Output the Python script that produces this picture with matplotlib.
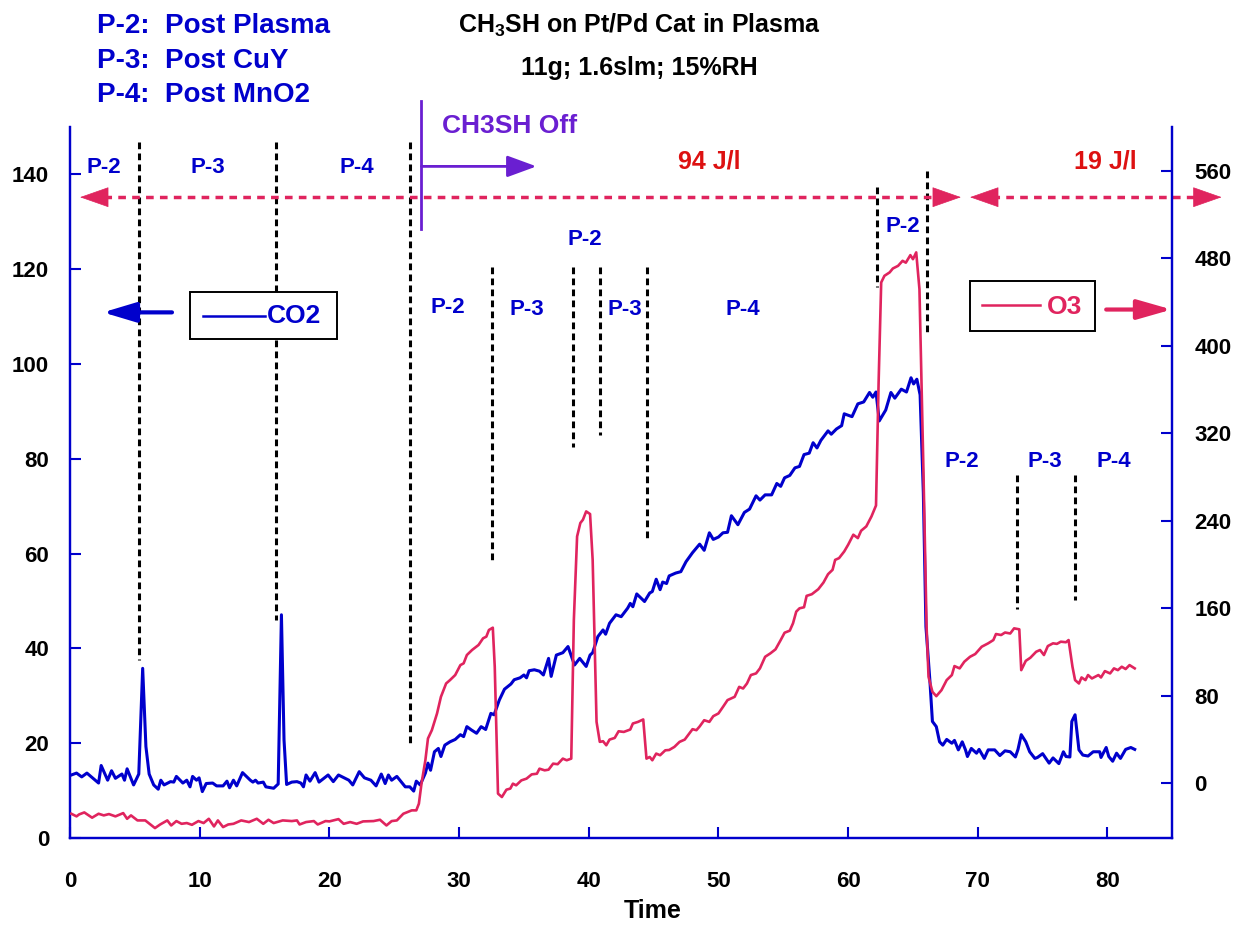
import matplotlib.pyplot as plt
from matplotlib.patches import Rectangle

plt.rcParams['font.family'] = ['Liberation Sans', 'DejaVu Sans']
plt.rcParams['font.weight'] = 'bold'
plt.rcParams['mathtext.fontset'] = 'custom'
plt.rcParams['mathtext.rm'] = 'Liberation Sans:bold'
plt.rcParams['mathtext.default'] = 'rm'

BLUE = '#0000cc'
CRIMSON = '#e0245e'
RED = '#dd1111'
PURPLE = '#6a1fd1'

# CO2 (left axis)
t_co2 = [0.1, 0.5, 0.9, 1.3, 2.2, 2.4, 2.9, 3.2, 3.5, 4.0, 4.2, 4.4, 4.9, 5.3, 5.6, 5.85, 6.1, 6.45,
         6.8, 7.0, 7.25, 7.75, 8.0, 8.2, 8.7, 9.0, 9.25, 9.45, 9.75, 9.95, 10.2, 10.5, 11.0, 11.3,
         11.8, 12.1, 12.3, 12.6, 12.85, 13.3, 13.9, 14.1, 14.3, 14.5, 14.9, 15.1, 15.7, 16.05, 16.3,
         16.5, 16.7, 17.1, 17.5, 17.8, 18.0, 18.2, 18.5, 18.9, 19.2, 19.9, 20.3, 20.7, 21.5, 21.8,
         22.3, 22.7, 23.2, 23.6, 24.0, 24.3, 24.55, 24.8, 25.2, 25.85, 26.2, 26.5, 26.7, 27.0, 27.4,
         27.6, 27.8, 28.1, 28.4, 28.6, 28.9, 29.3, 29.7, 30.1, 30.35, 30.6, 30.95, 31.35, 31.7,
         32.05, 32.45, 32.7, 33.1, 33.5, 34.0, 34.25, 34.7, 35.0, 35.2, 35.4, 35.8, 36.2, 36.5,
         36.9, 37.1, 37.5, 38.0, 38.4, 38.9, 39.3, 39.8, 40.1, 40.3, 40.7, 41.1, 41.3, 41.6, 42.1,
         42.5, 43.0, 43.2, 43.4, 43.7, 44.3, 44.7, 44.9, 45.2, 45.5, 45.7, 46.0, 46.2, 46.7, 47.1,
         47.5, 48.0, 48.55, 48.9, 49.3, 49.6, 50.0, 50.35, 50.7, 51.0, 51.5, 52.0, 52.4, 52.9,
         53.2, 53.6, 54.1, 54.5, 54.8, 55.1, 55.5, 55.9, 56.25, 56.6, 57.0, 57.3, 57.6, 57.9,
         58.45, 58.7, 59.1, 59.5, 59.7, 60.3, 60.75, 61.2, 61.65, 61.9, 62.15, 62.4, 62.9, 63.3,
         63.6, 64.1, 64.5, 64.85, 65.05, 65.3, 65.55, 65.8, 66.0, 66.3, 66.5, 66.8, 67.05, 67.3,
         67.6, 68.0, 68.2, 68.5, 68.8, 69.05, 69.2, 69.5, 69.9, 70.1, 70.5, 70.8, 71.3, 71.7,
         72.1, 72.5, 72.9, 73.1, 73.35, 73.7, 74.0, 74.4, 74.6, 75.0, 75.5, 75.8, 76.25, 76.6,
         76.8, 77.1, 77.25, 77.5, 77.8, 78.1, 78.5, 78.9, 79.4, 79.5, 79.9, 80.1, 80.4, 80.7,
         81.0, 81.4, 81.8, 82.1]
co2 = [13.3, 13.7, 12.9, 13.7, 11.6, 15.3, 12.2, 14.2, 12.6, 13.5, 12.2, 14.6, 11.2, 13.5, 35.8,
       19.3, 13.5, 11.2, 10.3, 12.2, 11.2, 11.9, 11.8, 13.0, 11.6, 12.2, 10.8, 13.0, 12.2, 12.7,
       9.8, 11.5, 11.6, 11.0, 11.0, 12.0, 10.6, 12.2, 11.0, 13.8, 12.2, 11.8, 12.2, 11.6, 11.8,
       10.8, 10.5, 11.4, 47.1, 20.7, 11.3, 11.8, 11.9, 11.6, 10.8, 13.3, 12.0, 13.8, 11.8, 13.3,
       11.9, 13.3, 12.2, 11.2, 14.0, 12.7, 12.2, 11.0, 13.5, 11.5, 13.3, 12.2, 13.0, 10.8, 10.8,
       9.9, 12.0, 11.2, 13.7, 15.8, 14.3, 18.2, 18.9, 17.2, 19.6, 20.3, 20.8, 21.8, 21.4, 23.5,
       22.8, 22.1, 23.5, 22.9, 26.3, 26.0, 29.1, 31.4, 32.5, 33.4, 33.8, 34.4, 33.8, 35.3, 35.5,
       35.2, 34.4, 37.9, 34.1, 38.6, 39.1, 40.4, 36.5, 37.9, 36.2, 38.6, 39.1, 42.5, 43.9, 43.0,
       45.3, 47.1, 46.7, 48.5, 49.5, 48.8, 51.5, 49.9, 51.7, 52.0, 54.6, 52.4, 54.0, 53.7, 55.3,
       55.9, 56.2, 58.3, 60.2, 62.0, 60.7, 64.4, 63.0, 63.5, 64.4, 64.5, 68.0, 66.1, 68.7, 69.4,
       72.2, 71.3, 72.4, 72.4, 74.8, 74.2, 76.0, 76.5, 78.1, 78.4, 80.9, 81.2, 83.4, 82.3, 83.9,
       85.9, 85.2, 86.3, 87.0, 89.5, 88.9, 91.6, 92.0, 94.0, 93.0, 94.1, 88.0, 90.3, 94.0, 92.8,
       94.7, 94.1, 97.1, 95.8, 96.8, 93.5, 72.8, 44.6, 33.4, 24.6, 23.5, 20.3, 19.6, 20.8, 20.0,
       20.6, 18.6, 20.3, 18.6, 17.2, 18.9, 17.9, 18.7, 16.8, 18.6, 18.6, 17.4, 18.4, 18.2, 17.1,
       18.7, 21.8, 20.3, 18.2, 16.8, 17.0, 17.8, 15.8, 16.9, 15.7, 18.2, 17.2, 17.1, 24.6, 26.0,
       18.6, 17.5, 17.3, 18.2, 18.2, 17.0, 19.1, 17.2, 16.2, 17.9, 16.8, 18.7, 19.1, 18.7]

# O3 (right axis)
t_o3 = [0.1, 0.5, 0.7, 1.1, 1.7, 2.2, 2.6, 3.0, 3.5, 4.1, 4.4, 4.7, 5.2, 5.8, 6.55, 6.95, 7.5, 7.8,
        8.2, 8.6, 9.0, 9.4, 9.9, 10.3, 10.7, 11.1, 11.4, 11.8, 12.2, 12.6, 13.2, 13.8, 14.4, 14.9,
        15.3, 15.7, 16.4, 17.1, 17.5, 17.7, 18.2, 18.8, 19.1, 19.7, 20.0, 20.7, 21.1, 21.6, 22.1,
        22.6, 23.4, 23.9, 24.4, 24.8, 25.2, 25.7, 26.35, 26.7, 26.9, 27.1, 27.4, 27.6, 27.9,
        28.3, 28.6, 29.0, 29.3, 29.7, 30.1, 30.35, 30.6, 31.0, 31.5, 31.85, 32.1, 32.3, 32.6,
        32.75, 33.0, 33.3, 33.65, 33.95, 34.15, 34.4, 34.8, 35.2, 35.6, 36.0, 36.2, 36.6, 36.9,
        37.25, 37.6, 38.0, 38.3, 38.65, 38.85, 39.1, 39.35, 39.55, 39.8, 40.1, 40.3, 40.6,
        40.85, 41.1, 41.35, 41.6, 42.0, 42.3, 42.7, 43.2, 43.4, 43.8, 44.2, 44.45, 44.7, 44.9,
        45.2, 45.5, 45.9, 46.2, 46.6, 47.0, 47.4, 47.65, 48.0, 48.3, 48.55, 48.9, 49.3, 49.6,
        50.0, 50.35, 50.7, 51.25, 51.6, 51.9, 52.2, 52.5, 52.9, 53.2, 53.6, 54.0, 54.4, 54.8,
        55.1, 55.5, 55.75, 56.0, 56.25, 56.6, 56.8, 57.2, 57.7, 58.1, 58.45, 58.8, 59.0, 59.3,
        59.7, 60.0, 60.4, 60.75, 61.0, 61.4, 61.8, 62.15, 62.35, 62.55, 62.8, 63.2, 63.45, 63.85,
        64.2, 64.45, 64.8, 65.0, 65.25, 65.5, 65.8, 66.05, 66.2, 66.5, 66.8, 67.2, 67.6, 68.0,
        68.2, 68.6, 68.96, 69.4, 69.8, 70.3, 70.8, 71.2, 71.4, 71.8, 72.1, 72.5, 72.8, 73.2,
        73.35, 73.7, 74.05, 74.5, 74.8, 75.1, 75.4, 75.8, 76.1, 76.4, 76.8, 77.0, 77.3, 77.5,
        77.8, 78.0, 78.3, 78.5, 78.8, 79.3, 79.5, 79.8, 80.2, 80.5, 80.8, 81.1, 81.4, 81.7, 82.1]
o3 = [-27.8, -30.2, -28.4, -26.6, -31.4, -27.8, -29.3, -28.1, -30.2, -27.2, -32.4, -29.3, -33.9,
      -33.9, -40.9, -37.6, -33.9, -38.5, -34.5, -37.0, -36.3, -37.9, -34.5, -36.3, -32.4, -39.4,
      -33.9, -40.0, -37.6, -37.0, -33.9, -35.4, -32.4, -37.0, -33.3, -36.3, -33.9, -34.5, -33.9,
      -37.6, -35.4, -34.5, -37.6, -34.5, -34.8, -32.7, -37.0, -35.4, -37.0, -34.8, -34.5, -33.3,
      -38.5, -34.5, -33.9, -27.8, -24.7, -24.7, -18.6, -0.3, 21.1, 41.0, 48.6, 63.9, 79.1,
      91.3, 94.4, 99.0, 108.1, 109.7, 117.3, 121.9, 126.5, 132.6, 134.1, 140.2, 142.3, 106.6,
      -9.4, -12.5, -5.8, -4.8, -0.3, -1.8, 2.7, 4.3, 8.2, 8.8, 13.4, 11.9, 12.5, 18.0, 17.5,
      22.6, 21.1, 22.6, 149.4, 225.7, 238.0, 241.0, 248.6, 246.2, 204.3, 56.2, 37.9, 38.5,
      34.8, 40.0, 41.5, 47.6, 47.0, 49.2, 54.7, 56.2, 58.4, 22.6, 24.1, 21.1, 27.2, 25.7, 30.2,
      30.5, 33.3, 37.9, 40.0, 44.0, 49.5, 48.6, 52.0, 57.7, 56.2, 61.4, 63.9, 69.9, 76.1, 79.1,
      88.2, 86.7, 91.3, 99.0, 100.5, 105.1, 115.7, 118.8, 122.5, 131.0, 137.7, 139.6, 146.3,
      157.0, 160.0, 161.0, 171.4, 172.9, 177.5, 183.6, 191.2, 195.2, 204.3, 205.9, 212.0,
      218.1, 227.3, 224.2, 230.9, 234.9, 244.0, 254.0, 366.0, 457.9, 464.0, 467.1, 470.7,
      473.1, 477.7, 476.0, 482.9, 479.2, 485.4, 451.8, 290.0, 143.2, 97.4, 83.7, 79.7, 85.2,
      94.4, 99.0, 107.2, 105.1, 111.2, 115.7, 118.2, 124.9, 128.0, 131.0, 136.5, 135.6, 137.9,
      137.0, 141.7, 140.8, 103.5, 112.0, 114.8, 120.3, 121.9, 117.3, 125.5, 128.0, 127.5,
      129.5, 129.0, 131.0, 106.6, 94.4, 91.3, 96.8, 94.4, 99.0, 95.9, 99.0, 96.8, 102.6, 100.5,
      105.1, 103.5, 106.6, 104.5, 108.1, 105.1]

# phase separators: time, top, bottom (left-axis units)
sep_t = [5.3, 15.9, 26.2, 32.5, 38.8, 40.85, 44.5, 62.2, 66.05, 73.0, 77.5]
sep_top = [146.8, 146.8, 146.8, 120.4, 120.4, 120.4, 120.4, 137.3, 140.7, 76.5, 76.5]
sep_bot = [37.6, 46.0, 19.8, 57.8, 82.5, 85.0, 62.9, 116.3, 106.0, 48.3, 50.3]

# phase labels
lab_text = ['P-2', 'P-3', 'P-4', 'P-2', 'P-3', 'P-2', 'P-3', 'P-4', 'P-2', 'P-2', 'P-3', 'P-4']
lab_t = [2.6, 10.6, 22.1, 29.1, 35.2, 39.7, 42.8, 51.9, 64.2, 68.8, 75.2, 80.5]
lab_y = [141.5, 141.5, 141.5, 111.9, 111.5, 126.3, 111.5, 111.5, 129.0, 79.4, 79.4, 79.4]

fig = plt.figure(figsize=(12.42, 9.26), dpi=100)
ax = fig.add_axes([0.0564, 0.0950, 0.8875, 0.7678])
ax2 = ax.twinx()

ax.plot(t_co2, co2, color=BLUE, lw=2.2, zorder=3)
ax2.plot(t_o3, o3, color=CRIMSON, lw=1.9, zorder=3)

ax.set_xlim(0, 85)
ax.set_ylim(0, 150)
ax2.set_ylim(-50, 600)
ax.set_xticks(range(0, 81, 10))
ax.set_yticks(range(0, 141, 20))
ax2.set_yticks(range(0, 561, 80))

for a in (ax, ax2):
    for s in ('left', 'right', 'bottom'):
        a.spines[s].set_color(BLUE)
        a.spines[s].set_linewidth(1.6)
    a.spines['top'].set_visible(False)
ax.tick_params(direction='in', length=8, width=1.5, color=BLUE, labelsize=16)
ax.tick_params(axis='x', pad=24)
ax.tick_params(axis='y', pad=15)
ax2.tick_params(axis='y', direction='in', length=8, width=1.5, color=BLUE, labelsize=16, pad=16)

for t, y0, y1 in zip(sep_t, sep_top, sep_bot):
    ax.plot([t, t], [y0, y1], color='black', lw=2.2, ls=(0, (2.2, 1.4)), zorder=2)

for s, t, y in zip(lab_text, lab_t, lab_y):
    ax.text(t, y, s, color=BLUE, fontsize=16, ha='center', va='center')

# energy ranges
ydash = 135.2
ax.plot([1.5, 68.0], [ydash, ydash], color=CRIMSON, lw=2.5, ls=(0, (2.2, 1.8)), clip_on=False)
ax.plot([70.0, 88.0], [ydash, ydash], color=CRIMSON, lw=2.5, ls=(0, (2.2, 1.8)), clip_on=False)
head = dict(arrowstyle='-|>,head_length=0.97,head_width=0.34', color=CRIMSON, lw=0.5,
            shrinkA=0, shrinkB=0, mutation_scale=20)
for tip, base in [(0.77, 2.85), (68.7, 66.6), (69.4, 71.5), (88.8, 86.7)]:
    ax.annotate('', xy=(tip, ydash), xytext=(base, ydash), arrowprops=head, annotation_clip=False)
ax.text(49.3, 142.8, '94 J/l', color=RED, fontsize=18, ha='center', va='center')
ax.text(79.8, 142.8, '19 J/l', color=RED, fontsize=18, ha='center', va='center')

# CH3SH off marker
ax.plot([27.1, 27.1], [155.4, 128.4], color=PURPLE, lw=2.0, clip_on=False)
ax.annotate('', xy=(35.97, 141.7), xytext=(27.1, 141.7), annotation_clip=False,
            arrowprops=dict(arrowstyle='-|>,head_length=0.9,head_width=0.33', color=PURPLE,
                            lw=2.0, shrinkA=0, shrinkB=0, mutation_scale=20))
ax.text(28.7, 150.2, 'CH3SH Off', color=PURPLE, fontsize=19, ha='left', va='center')

# series keys
ax.add_patch(Rectangle((9.25, 105.2), 11.33, 10.1, facecolor='white', edgecolor='black',
                       lw=1.4, zorder=4, clip_on=False))
ax.plot([10.25, 15.03], [110.2, 110.2], color=BLUE, lw=1.8, zorder=5)
ax.text(15.2, 110.2, 'CO2', color=BLUE, fontsize=19, ha='left', va='center', zorder=5)
ax.annotate('', xy=(2.54, 110.9), xytext=(7.86, 110.9), annotation_clip=False,
            arrowprops=dict(arrowstyle='-|>,head_length=1.0,head_width=0.3', color=BLUE,
                            lw=3.0, shrinkA=0, shrinkB=0, mutation_scale=20))

ax.add_patch(Rectangle((69.36, 106.9), 9.64, 10.7, facecolor='white', edgecolor='black',
                       lw=1.4, zorder=4, clip_on=False))
ax.plot([70.3, 74.8], [112.4, 112.4], color=CRIMSON, lw=1.8, zorder=5)
ax.text(75.3, 112.0, 'O3', color=CRIMSON, fontsize=19, ha='left', va='center', zorder=5)
ax.annotate('', xy=(84.95, 111.5), xytext=(79.9, 111.5), annotation_clip=False,
            arrowprops=dict(arrowstyle='-|>,head_length=1.05,head_width=0.3', color=CRIMSON,
                            lw=3.0, shrinkA=0, shrinkB=0, mutation_scale=20))

# titles and notes
fig.text(0.515, 0.9644, 'CH$_3$SH on Pt/Pd Cat in Plasma', fontsize=18, ha='center', va='baseline')
fig.text(0.515, 0.9190, '11g; 1.6slm; 15%RH', fontsize=18, ha='center', va='baseline')
notes = ['P-2:  Post Plasma', 'P-3:  Post CuY', 'P-4:  Post MnO2']
for i, s in enumerate(notes):
    fig.text(97 / 1242, [0.9644, 0.9266, 0.8898][i], s, color=BLUE, fontsize=20,
             ha='left', va='baseline')
fig.text(653 / 1242, 1 - 911 / 926, 'Time', fontsize=18, ha='center', va='center')

fig.savefig('out.png', dpi=100)
